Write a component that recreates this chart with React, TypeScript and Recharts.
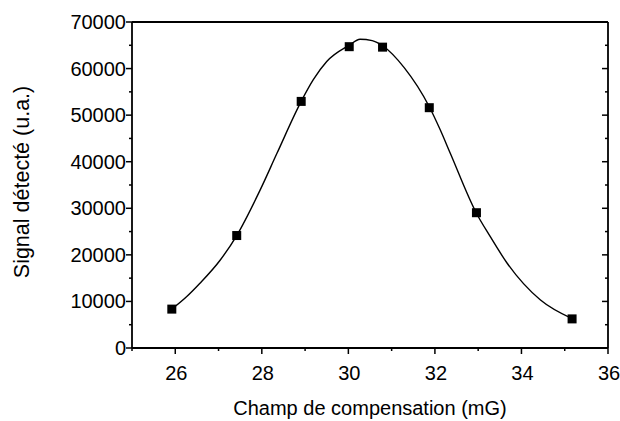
import React from 'react';
import { ComposedChart, Line, Scatter, XAxis, YAxis } from 'recharts';

// Measured points (squares)
const measuredX = [25.92, 27.42, 28.91, 30.02, 30.79, 31.87, 32.96, 35.17];
const measuredY = [8350, 24150, 52950, 64700, 64600, 51600, 29050, 6250];

// Fitted curve
const fitX = [25.92, 26.26, 26.57, 27.04, 27.42, 27.96, 28.35, 28.91, 29.19, 29.5, 30.02, 30.27, 30.55, 30.79, 31.29, 31.87, 32.12, 32.36, 32.95, 33.28, 33.67, 34.44, 35.17];
const fitY = [8350, 11000, 13900, 18900, 24150, 33900, 41800, 52950, 57600, 61500, 65000, 66300, 66000, 64900, 60200, 51800, 46900, 41700, 29100, 23900, 18200, 10300, 6300];

// Tick values
const xTicks = [25, 26, 27, 28, 29, 30, 31, 32, 33, 34, 35, 36];
const xLabelTicks = [26, 28, 30, 32, 34, 36];
const yTicks = [0, 5000, 10000, 15000, 20000, 25000, 30000, 35000, 40000, 45000, 50000, 55000, 60000, 65000, 70000];
const yLabelTicks = [0, 10000, 20000, 30000, 40000, 50000, 60000, 70000];

const xTitle = 'Champ de compensation (mG)';
const yTitle = 'Signal détecté (u.a.)';

const points = measuredX.map((x, i) => ({ x, y: measuredY[i] }));
const curve = fitX.map((x, i) => ({ x, y: fitY[i] }));

const FONT = '"Liberation Sans", Arial, Helvetica, sans-serif';
const INK = '#000';

const BottomTick = (props: any) => {
  const { x, y, payload } = props;
  const major = xLabelTicks.includes(payload.value);
  return (
    <g>
      <line x1={x} x2={x} y1={y} y2={y + (major ? 6 : 3)} stroke={INK} strokeWidth={1.5} />
      {major && (
        <text x={x + 1} y={y + 32} textAnchor="middle" fontSize={20} fontFamily={FONT} fill={INK}>
          {payload.value}
        </text>
      )}
    </g>
  );
};

const TopTick = (props: any) => {
  const { x, y, payload } = props;
  const major = xLabelTicks.includes(payload.value);
  return <line x1={x} x2={x} y1={y} y2={y + (major ? 6 : 3)} stroke={INK} strokeWidth={1.5} />;
};

const LeftTick = (props: any) => {
  const { x, y, payload } = props;
  const major = yLabelTicks.includes(payload.value);
  return (
    <g>
      <line x1={x} x2={x - (major ? 6 : 3)} y1={y} y2={y} stroke={INK} strokeWidth={1.5} />
      {major && (
        <text x={x - 6} y={y} textAnchor="end" dominantBaseline="central" fontSize={20} fontFamily={FONT} fill={INK}>
          {payload.value}
        </text>
      )}
    </g>
  );
};

const RightTick = (props: any) => {
  const { x, y, payload } = props;
  const major = yLabelTicks.includes(payload.value);
  return <line x1={x} x2={x - (major ? 6 : 3)} y1={y} y2={y} stroke={INK} strokeWidth={1.5} />;
};

const SquareDot = (props: any) => {
  const { cx, cy } = props;
  return <rect x={cx - 4.5} y={cy - 4.5} width={9} height={9} fill={INK} />;
};

const axisLineStyle = { stroke: INK, strokeWidth: 1.8 };

export default function App() {
  return (
    <div style={{ position: 'absolute', left: 0, top: 0, width: 620, height: 421, background: '#fff' }}>
      <ComposedChart width={620} height={421} margin={{ top: 22, right: 12, bottom: 0, left: 0 }}>
        <XAxis
          xAxisId="main"
          dataKey="x"
          type="number"
          domain={[25, 36]}
          allowDataOverflow
          ticks={xTicks}
          interval={0}
          height={73}
          tickSize={0}
          tickMargin={0}
          tickLine={false}
          axisLine={axisLineStyle}
          tick={<BottomTick />}
          label={{
            content: (p: any) => {
              const vb = p.viewBox;
              return (
                <text x={vb.x + vb.width / 2} y={vb.y + 67} textAnchor="middle" fontSize={20} fontFamily={FONT} fill={INK}>
                  {xTitle}
                </text>
              );
            },
          }}
        />
        <XAxis
          xAxisId="top"
          orientation="top"
          mirror
          type="number"
          domain={[25, 36]}
          allowDataOverflow
          ticks={xTicks}
          interval={0}
          tickSize={0}
          tickMargin={0}
          tickLine={false}
          axisLine={axisLineStyle}
          tick={<TopTick />}
        />
        <YAxis
          yAxisId="main"
          dataKey="y"
          type="number"
          domain={[0, 70000]}
          allowDataOverflow
          ticks={yTicks}
          interval={0}
          width={132}
          tickSize={0}
          tickMargin={0}
          tickLine={false}
          axisLine={axisLineStyle}
          tick={<LeftTick />}
          label={{
            content: (p: any) => {
              const vb = p.viewBox;
              const cx = 22;
              const cy = vb.y + vb.height / 2 - 3;
              return (
                <text x={cx} y={cy} transform={`rotate(-90 ${cx} ${cy})`} textAnchor="middle" dominantBaseline="central" fontSize={21.5} fontFamily={FONT} fill={INK}>
                  {yTitle}
                </text>
              );
            },
          }}
        />
        <YAxis
          yAxisId="right"
          orientation="right"
          mirror
          type="number"
          domain={[0, 70000]}
          allowDataOverflow
          ticks={yTicks}
          interval={0}
          tickSize={0}
          tickMargin={0}
          tickLine={false}
          axisLine={axisLineStyle}
          tick={<RightTick />}
        />
        <Line
          xAxisId="main"
          yAxisId="main"
          data={curve}
          dataKey="y"
          type="monotone"
          stroke={INK}
          strokeWidth={1.4}
          dot={false}
          activeDot={false}
          isAnimationActive={false}
        />
        <Scatter
          xAxisId="main"
          yAxisId="main"
          data={points}
          dataKey="y"
          fill={INK}
          shape={<SquareDot />}
          isAnimationActive={false}
        />
      </ComposedChart>
    </div>
  );
}
